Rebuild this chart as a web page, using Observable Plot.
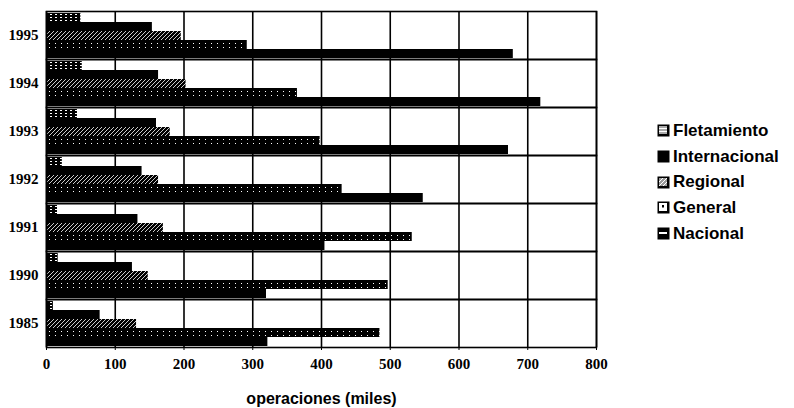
<!DOCTYPE html>
<html><head><meta charset="utf-8">
<script src="https://cdn.jsdelivr.net/npm/d3@7"></script>
<script src="https://cdn.jsdelivr.net/npm/@observablehq/plot@0.6"></script>
<style>
body{margin:0;background:#fff;}
#wrap{position:relative;width:794px;height:408px;overflow:hidden;}
#legend{position:absolute;left:657px;top:118px;font-family:"Liberation Sans",Arial,sans-serif;font-weight:bold;font-size:17px;color:#000;}
.item{display:flex;align-items:center;height:25.7px;}
.item svg{margin-right:3px;}
[aria-label="x-axis label"]{font-family:"Liberation Sans",Arial,sans-serif;font-weight:bold;font-size:16px;}
[aria-label="x-axis tick label"],[aria-label="fy-axis tick label"]{font-weight:bold;}
</style></head><body>
<svg width="0" height="0" style="position:absolute">
<defs>
<pattern id="pFlet" width="5" height="3" patternUnits="userSpaceOnUse"><rect width="5" height="3" fill="#000"/><rect x="0" y="1" width="2" height="1" fill="#fff"/></pattern>
<pattern id="pReg" width="4" height="4" patternUnits="userSpaceOnUse"><rect width="4" height="4" fill="#000"/><path d="M0,4 L4,0" stroke="#fff" stroke-width="0.8"/></pattern>
<pattern id="pGen" width="6" height="4" patternUnits="userSpaceOnUse"><rect width="6" height="4" fill="#000"/><rect x="1" y="2" width="1" height="1" fill="#fff"/></pattern>
<pattern id="pNacLeg" width="12" height="12" patternUnits="userSpaceOnUse"><rect width="12" height="12" fill="#000"/><rect x="2" y="5" width="8" height="2" fill="#fff"/></pattern>
<pattern id="pGenLeg" width="12" height="12" patternUnits="userSpaceOnUse"><rect width="12" height="12" fill="#000"/><rect x="2" y="2" width="8" height="8" fill="#fff"/><rect x="5" y="4" width="2" height="2.5" fill="#000"/></pattern>
<pattern id="pRegLeg" width="12" height="12" patternUnits="userSpaceOnUse"><rect width="12" height="12" fill="#000"/><rect x="2" y="2" width="8" height="8" fill="#999"/><path d="M2,10 L10,2 M2,6 L6,2 M6,10 L10,6" stroke="#fff" stroke-width="1"/></pattern>
<pattern id="pFletLeg" width="12" height="12" patternUnits="userSpaceOnUse"><rect width="12" height="12" fill="#000"/><rect x="2" y="2" width="8" height="8" fill="#aaa"/><path d="M2,4.5 H10 M2,7.5 H10" stroke="#fff" stroke-width="1"/></pattern>
</defs>
</svg>
<div id="wrap"><div id="chart"></div><div id="legend"></div></div>
<script>
const years = ["1995","1994","1993","1992","1991","1990","1985"];
const series = ["Fletamiento","Internacional","Regional","General","Nacional"];
const fletamiento   = [50, 52, 45, 23, 16, 17, 10];
const internacional = [154, 163, 160, 139, 133, 125, 78];
const regional      = [196, 203, 180, 163, 170, 148, 131];
const general       = [292, 365, 398, 430, 532, 497, 485];
const nacional      = [679, 719, 672, 548, 405, 320, 322];
const xTicks = [0, 100, 200, 300, 400, 500, 600, 700, 800];
const xLabel = "operaciones (miles)";

const seriesValues = [fletamiento, internacional, regional, general, nacional];
const data = [];
years.forEach((yr, i) => series.forEach((s, j) => data.push({year: yr, series: s, value: seriesValues[j][i]})));

const fills = ["url(#pFlet)", "#000", "url(#pReg)", "url(#pGen)", "#000"];
const legendFills = ["url(#pFletLeg)", "#000", "url(#pRegLeg)", "url(#pGenLeg)", "url(#pNacLeg)"];

const chart = Plot.plot({
  width: 794,
  height: 408,
  marginLeft: 46,
  marginRight: 198,
  marginTop: 10,
  marginBottom: 60,
  style: {fontFamily: "'Liberation Serif', 'Times New Roman', serif", fontSize: "15px", color: "#000", background: "#fff"},
  x: {domain: [0, 800]},
  y: {domain: series, padding: 0.03, axis: null},
  fy: {domain: years, padding: 0},
  color: {domain: series, range: fills},
  marks: [
    Plot.gridX({ticks: xTicks, stroke: "#000", strokeOpacity: 1, strokeWidth: 1.6}),
    Plot.barX(data, {x: "value", y: "series", fy: "year", fill: "series", inset: 0}),
    Plot.frame({stroke: "#000", strokeWidth: 1.6}),
    Plot.axisFy({anchor: "left", tickSize: 0, tickPadding: 8, label: null}),
    Plot.axisX({ticks: xTicks, tickSize: 3, tickPadding: 8, label: xLabel, labelAnchor: "center", labelArrow: "none", labelOffset: 56})
  ]
});
document.getElementById("chart").appendChild(chart);

const legend = document.getElementById("legend");
series.forEach((s, j) => {
  const item = document.createElement("div");
  item.className = "item";
  item.innerHTML = `<svg width="13" height="13"><rect x="0.5" y="0.5" width="12" height="12" fill="${legendFills[j]}"/></svg><span>${s}</span>`;
  legend.appendChild(item);
});
</script>
</body></html>
